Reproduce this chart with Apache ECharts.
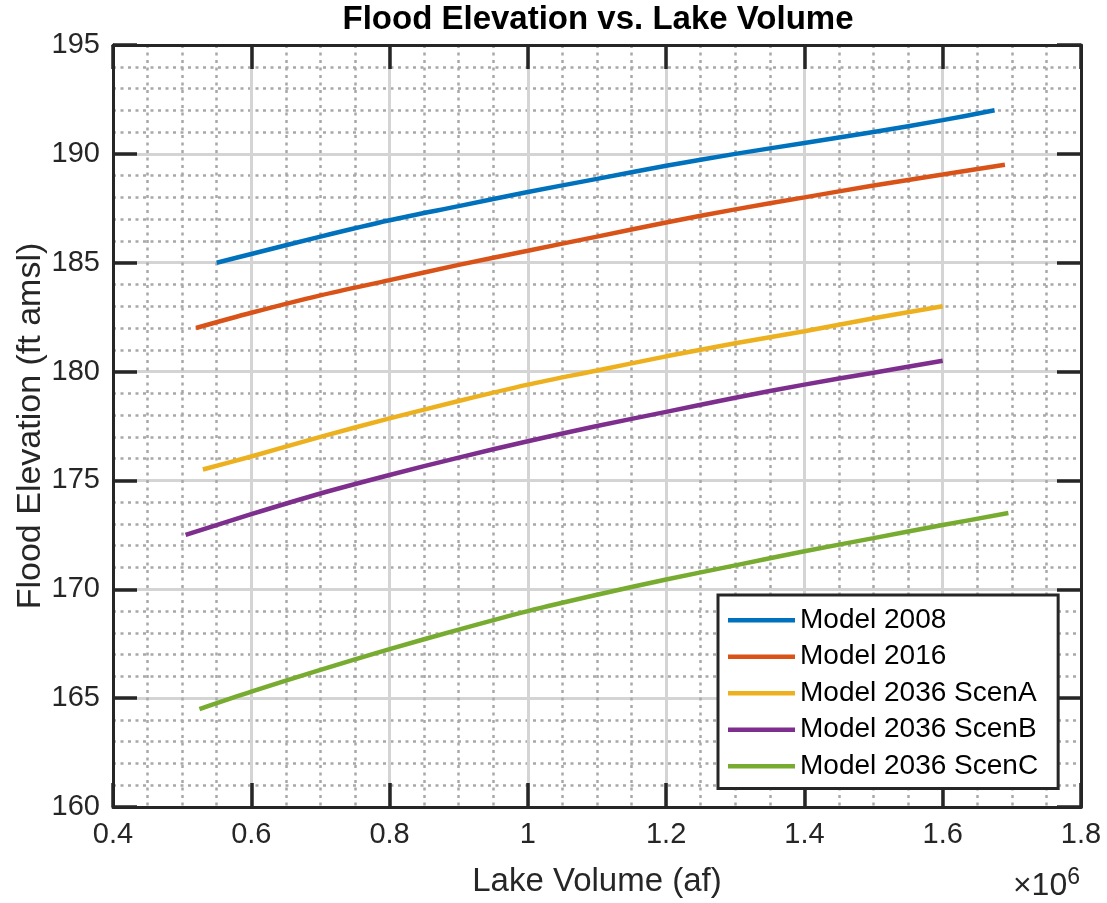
<!DOCTYPE html>
<html>
<head>
<meta charset="utf-8">
<script src="https://cdn.jsdelivr.net/npm/echarts@6/dist/echarts.min.js"></script>
<style>
  html, body { margin: 0; padding: 0; background: #fff; }
  #chart { width: 1107px; height: 903px; }
</style>
</head>
<body>
<div id="chart"></div>
<script>
// lake volume (x 10^6 af) and flood elevation (ft amsl) per model run
const x2008 = [0.55, 0.6, 0.7, 0.8, 0.9, 1.0, 1.1, 1.2, 1.3, 1.4, 1.5, 1.6, 1.675];
const y2008 = [185.0, 185.4, 186.2, 186.95, 187.6, 188.25, 188.85, 189.45, 190.0, 190.5, 191.0, 191.55, 192.0];

const x2016 = [0.52, 0.6, 0.7, 0.8, 0.9, 1.0, 1.1, 1.2, 1.3, 1.4, 1.5, 1.6, 1.69];
const y2016 = [182.0, 182.7, 183.5, 184.2, 184.9, 185.55, 186.2, 186.85, 187.45, 188.0, 188.55, 189.05, 189.5];

const xScenA = [0.53, 0.6, 0.7, 0.8, 0.9, 1.0, 1.1, 1.2, 1.3, 1.4, 1.5, 1.6];
const yScenA = [175.5, 176.1, 177.0, 177.85, 178.65, 179.4, 180.05, 180.7, 181.3, 181.85, 182.45, 183.0];

const xScenB = [0.505, 0.6, 0.7, 0.8, 0.9, 1.0, 1.1, 1.2, 1.3, 1.4, 1.5, 1.6];
const yScenB = [172.5, 173.45, 174.4, 175.25, 176.05, 176.8, 177.5, 178.15, 178.8, 179.4, 179.95, 180.5];

const xScenC = [0.525, 0.6, 0.7, 0.8, 0.9, 1.0, 1.1, 1.2, 1.3, 1.4, 1.5, 1.6, 1.695];
const yScenC = [164.5, 165.3, 166.3, 167.25, 168.15, 169.0, 169.75, 170.45, 171.1, 171.75, 172.35, 172.95, 173.5];

const seriesNames = ['Model 2008', 'Model 2016', 'Model 2036 ScenA', 'Model 2036 ScenB', 'Model 2036 ScenC'];
const seriesColors = ['#0072BD', '#D95319', '#EDB120', '#7E2F8E', '#77AC30'];

const FONT = '"Liberation Sans", Arial, Helvetica, sans-serif';
const INK = '#262626';

const zip = (xs, ys) => xs.map((x, i) => [x, ys[i]]);
const seriesData = [
    zip(x2008, y2008),
    zip(x2016, y2016),
    zip(xScenA, yScenA),
    zip(xScenB, yScenB),
    zip(xScenC, yScenC),
];

// box axes: ticks inside on all four sides like matlab
const boxLine = { show: true, onZero: false, lineStyle: { color: INK, width: 3 } };
const boxTick = { show: true, inside: true, length: 24, lineStyle: { color: INK, width: 3.5 } };
const majorGrid = { show: true, lineStyle: { color: '#d4d4d4', width: 3 } };
const minorGrid = { show: true, lineStyle: { color: '#a8a8a8', width: 2.5, type: [3, 4.5] } };

const chart = echarts.init(document.getElementById('chart'));

chart.setOption({
    animation: false,
    backgroundColor: '#fff',
    title: {
        text: 'Flood Elevation vs. Lake Volume',
        left: 598,
        top: 3,
        padding: 0,
        textAlign: 'center',
        textStyle: { fontFamily: FONT, fontSize: 33, fontWeight: 'bold', color: '#000' },
    },
    grid: { left: 113, right: 26, top: 45, bottom: 95, containLabel: false },
    legend: {
        orient: 'vertical',
        left: 718,
        top: 595,
        padding: [11, 20, 8, 10],
        itemWidth: 67,
        itemHeight: 4.5,
        itemGap: 8,
        icon: 'rect',
        backgroundColor: '#fff',
        borderColor: INK,
        borderWidth: 3,
        data: seriesNames,
        textStyle: { fontFamily: FONT, fontSize: 28, lineHeight: 28.5, color: '#000' },
    },
    xAxis: [
        {
            type: 'value',
            position: 'bottom',
            min: 0.4,
            max: 1.8,
            interval: 0.2,
            name: 'Lake Volume (af)',
            nameLocation: 'middle',
            nameGap: 58,
            nameTextStyle: { fontFamily: FONT, fontSize: 33, color: INK },
            axisLine: boxLine,
            axisTick: boxTick,
            axisLabel: {
                margin: 13,
                fontFamily: FONT,
                fontSize: 29,
                color: INK,
                formatter: v => String(+v.toFixed(1)),
            },
            splitLine: majorGrid,
            minorTick: { show: false, splitNumber: 4 },
            minorSplitLine: minorGrid,
        },
        {
            type: 'value',
            position: 'top',
            min: 0.4,
            max: 1.8,
            interval: 0.2,
            axisLine: boxLine,
            axisTick: boxTick,
            axisLabel: { show: false },
            splitLine: { show: false },
        },
    ],
    yAxis: [
        {
            type: 'value',
            position: 'left',
            min: 160,
            max: 195,
            interval: 5,
            name: 'Flood Elevation (ft amsl)',
            nameLocation: 'middle',
            nameGap: 65,
            nameMoveOverlap: false,
            nameTextStyle: { fontFamily: FONT, fontSize: 34, color: INK },
            axisLine: boxLine,
            axisTick: boxTick,
            axisLabel: { margin: 13, fontFamily: FONT, fontSize: 29, color: INK },
            splitLine: majorGrid,
            minorTick: { show: false, splitNumber: 5 },
            minorSplitLine: minorGrid,
        },
        {
            type: 'value',
            position: 'right',
            min: 160,
            max: 195,
            interval: 5,
            axisLine: boxLine,
            axisTick: boxTick,
            axisLabel: { show: false },
            splitLine: { show: false },
        },
    ],
    graphic: [
        {
            type: 'text',
            right: 27,
            top: 866,
            style: {
                text: '×10{sup|6}',
                fontFamily: FONT,
                fontSize: 32,
                fill: INK,
                rich: {
                    sup: { fontFamily: FONT, fontSize: 23, fill: INK, verticalAlign: 'top', padding: [0, 0, 17, 0] },
                },
            },
        },
    ],
    series: seriesNames.map((name, i) => ({
        name,
        type: 'line',
        xAxisIndex: 0,
        yAxisIndex: 0,
        data: seriesData[i],
        showSymbol: false,
        symbol: 'none',
        smooth: 0.3,
        color: seriesColors[i],
        lineStyle: { width: 4.5, color: seriesColors[i] },
        z: 3,
    })),
});
</script>
</body>
</html>
